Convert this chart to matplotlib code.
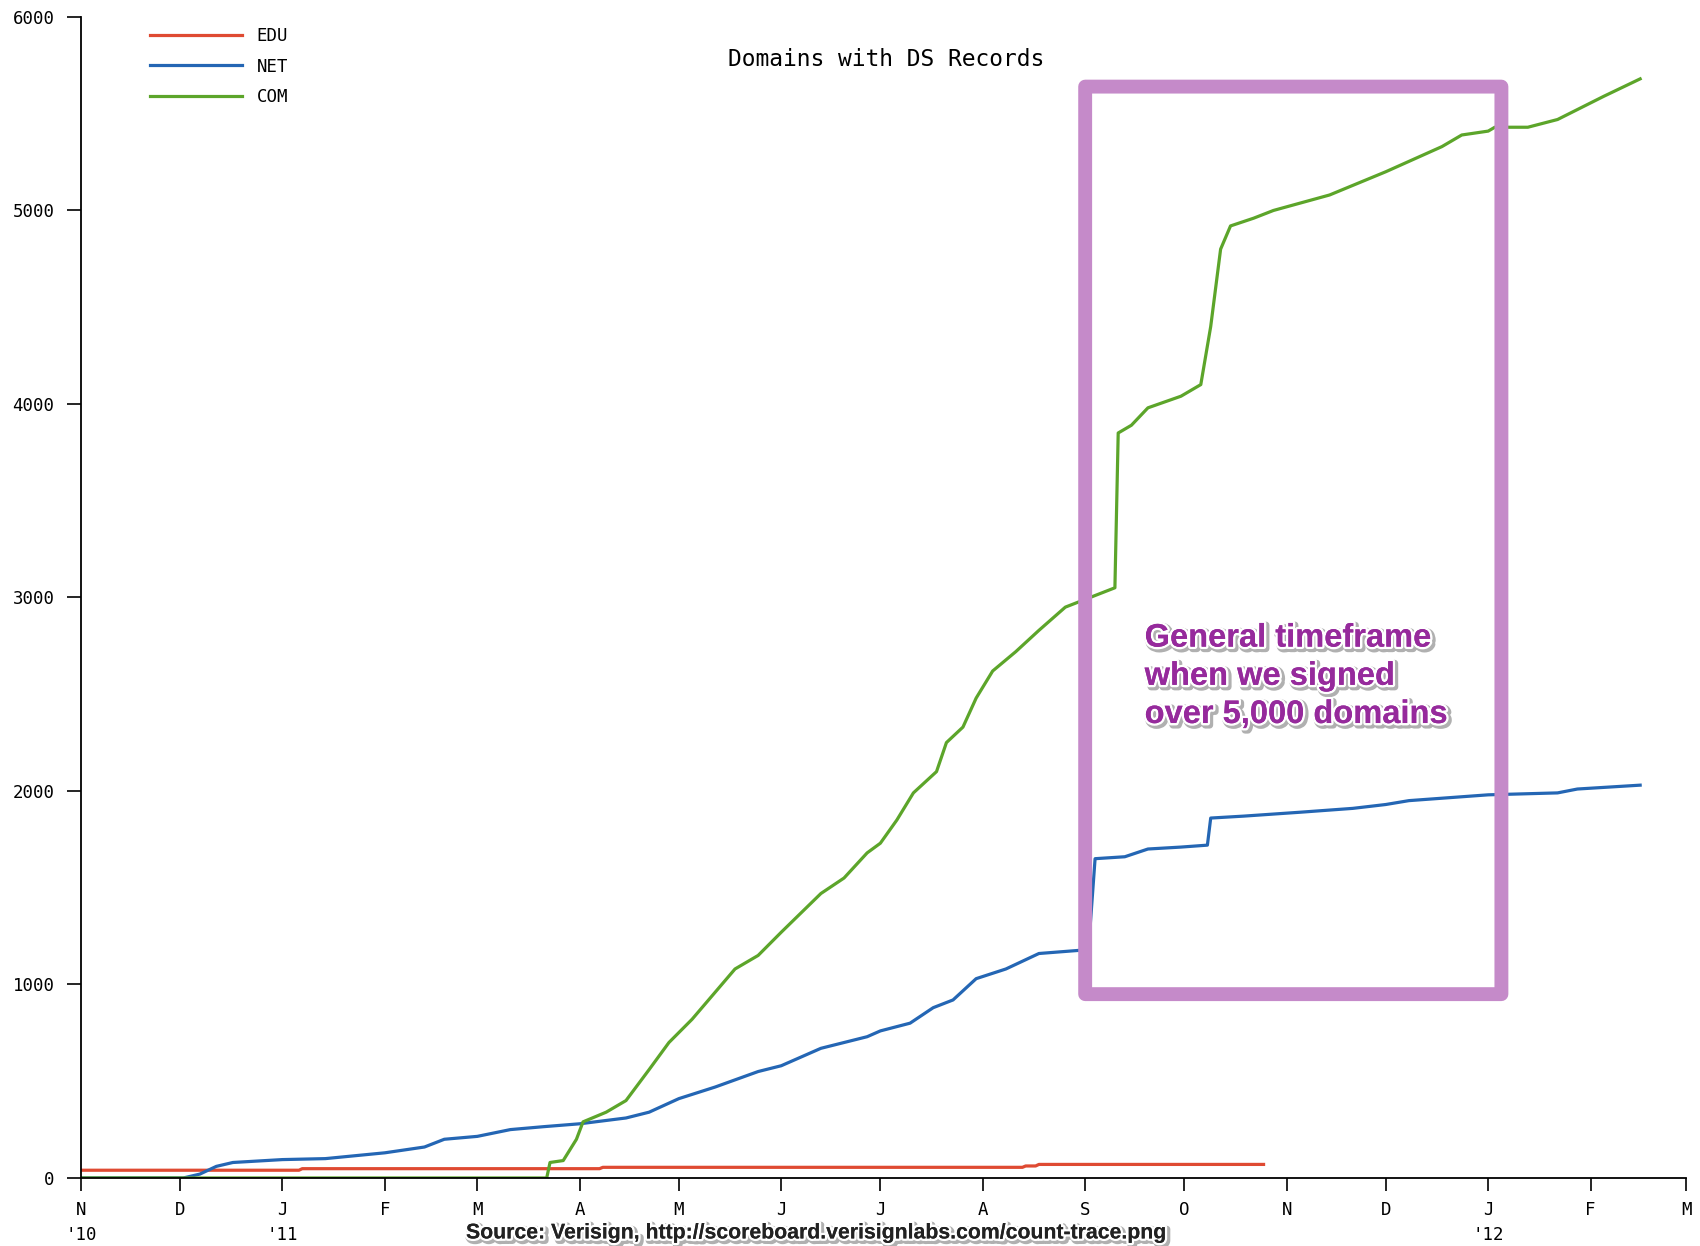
import numpy as np
import pandas as pd
import matplotlib
matplotlib.use("Agg")
import matplotlib.pyplot as plt
import matplotlib.dates as mdates
import matplotlib.patheffects as pe
from matplotlib.patches import FancyBboxPatch

# Domains with DS records

edu_dates = ['2010-11-01', '2011-01-06', '2011-01-07', '2011-04-07', '2011-04-08',
             '2011-08-13', '2011-08-14', '2011-08-17', '2011-08-18', '2011-10-25']
edu_vals = [40, 40, 48, 48, 55, 55, 62, 62, 70, 70]

net_dates = ['2010-11-01', '2010-12-02', '2010-12-07', '2010-12-12', '2010-12-17',
             '2011-01-01', '2011-01-14', '2011-02-01', '2011-02-13', '2011-02-19',
             '2011-03-01', '2011-03-11', '2011-03-21', '2011-04-01', '2011-04-15',
             '2011-04-22', '2011-05-01', '2011-05-12', '2011-05-25', '2011-06-01',
             '2011-06-13', '2011-06-27', '2011-07-01', '2011-07-10', '2011-07-17',
             '2011-07-23', '2011-07-30', '2011-08-08', '2011-08-18', '2011-09-02',
             '2011-09-04', '2011-09-13', '2011-09-20', '2011-09-30', '2011-10-08',
             '2011-10-09', '2011-10-19', '2011-11-05', '2011-11-21', '2011-12-01',
             '2011-12-08', '2012-01-01', '2012-01-22', '2012-01-28', '2012-02-16']
net_vals = [0, 0, 20, 60, 80,
            95, 100, 130, 160, 200,
            215, 250, 265, 280, 310,
            340, 410, 470, 550, 580,
            670, 730, 760, 800, 880,
            920, 1030, 1080, 1160, 1180,
            1650, 1660, 1700, 1710, 1720,
            1860, 1870, 1890, 1910, 1930,
            1950, 1980, 1990, 2010, 2030]

com_dates = ['2010-11-01', '2011-03-22', '2011-03-23', '2011-03-27', '2011-03-31',
             '2011-04-02', '2011-04-09', '2011-04-15', '2011-04-22', '2011-04-28',
             '2011-05-05', '2011-05-12', '2011-05-18', '2011-05-25', '2011-06-01',
             '2011-06-07', '2011-06-13', '2011-06-20', '2011-06-27', '2011-07-01',
             '2011-07-06', '2011-07-11', '2011-07-18', '2011-07-21', '2011-07-26',
             '2011-07-30', '2011-08-04', '2011-08-11', '2011-08-18', '2011-08-26',
             '2011-09-01', '2011-09-10', '2011-09-11', '2011-09-15', '2011-09-20',
             '2011-09-30', '2011-10-06', '2011-10-09', '2011-10-12', '2011-10-15',
             '2011-10-22', '2011-10-28', '2011-11-14', '2011-12-01', '2011-12-18',
             '2011-12-24', '2012-01-01', '2012-01-03', '2012-01-13', '2012-01-22',
             '2012-02-05', '2012-02-16']
com_vals = [0, 0, 80, 90, 200,
            290, 340, 400, 560, 700,
            820, 960, 1080, 1150, 1270,
            1370, 1470, 1550, 1680, 1730,
            1850, 1990, 2100, 2250, 2330,
            2480, 2620, 2720, 2830, 2950,
            2990, 3050, 3850, 3890, 3980,
            4040, 4100, 4400, 4800, 4920,
            4960, 5000, 5080, 5200, 5330,
            5390, 5410, 5430, 5430, 5470,
            5590, 5680]

month_ticks = pd.date_range('2010-11-01', '2012-03-01', freq='MS')
month_labels = ["N\n'10", 'D', "J\n'11", 'F', 'M', 'A', 'M', 'J', 'J', 'A',
                'S', 'O', 'N', 'D', "J\n'12", 'F', 'M']
y_ticks = [0, 1000, 2000, 3000, 4000, 5000, 6000]

# highlight box (annotation)
box_start, box_end = '2011-09-01', '2012-01-05'
box_low, box_high = 950, 5640
note_date, note_top = '2011-09-19', 2870

mono = 'DejaVu Sans Mono'

fig = plt.figure(figsize=(17, 12.46), dpi=100)
ax = fig.add_axes([0.0476, 0.0546, 0.9444, 0.9318])

ax.plot(pd.to_datetime(edu_dates), edu_vals, color='#df4a32', lw=2.3, label='EDU')
ax.plot(pd.to_datetime(net_dates), net_vals, color='#2466b4', lw=2.3, label='NET')
ax.plot(pd.to_datetime(com_dates), com_vals, color='#5ca52a', lw=2.3, label='COM')

ax.set_xlim(month_ticks[0], month_ticks[-1])
ax.set_ylim(0, 6000)
ax.set_xticks(month_ticks)
ax.set_xticklabels(month_labels, family=mono, fontsize=12.5, linespacing=1.5)
ax.set_yticks(y_ticks)
ax.set_yticklabels([str(v) for v in y_ticks], family=mono, fontsize=12.5)
ax.tick_params(axis='x', direction='out', length=9.5, width=1.2, pad=7)
ax.tick_params(axis='y', direction='out', length=10, width=1.2, pad=9)
for s in ['top', 'right']:
    ax.spines[s].set_visible(False)
for s in ['left', 'bottom']:
    ax.spines[s].set_linewidth(1.3)

leg = ax.legend(loc='upper left', bbox_to_anchor=(150 / 1700, 1 - 27 / 1246),
                bbox_transform=fig.transFigure, frameon=False, borderpad=0,
                borderaxespad=0, handlelength=5.3, handletextpad=0.85,
                labelspacing=0.72, prop={'family': mono, 'size': 12.5})

fig.text(0.521, 0.952, 'Domains with DS Records', family=mono, fontsize=16.5,
         ha='center', va='center')

# purple box
x0 = mdates.date2num(pd.Timestamp(box_start))
x1 = mdates.date2num(pd.Timestamp(box_end))
box = FancyBboxPatch((x0, box_low), x1 - x0, box_high - box_low,
                     boxstyle='round,pad=0,rounding_size=0', fill=False,
                     edgecolor='#c58ac9', lw=10, joinstyle='round', zorder=4)
ax.add_patch(box)

shadow = [pe.withStroke(linewidth=5, foreground='#b0b0b0', offset=(1.5, -1.5)),
          pe.withStroke(linewidth=3.5, foreground='white'), pe.Normal()]
ax.text(pd.Timestamp(note_date), note_top,
        'General timeframe\nwhen we signed\nover 5,000 domains',
        family='Liberation Sans', weight='bold', fontsize=23.5, color='#962a9c',
        ha='left', va='top', linespacing=1.3, zorder=5, path_effects=shadow)

fig.text(0.481, 0.0105,
         'Source: Verisign, http://scoreboard.verisignlabs.com/count-trace.png',
         family='Liberation Sans', weight='bold', fontsize=15.3, color='#222222',
         ha='center', va='center', path_effects=shadow)

fig.savefig('out.png', dpi=100)
